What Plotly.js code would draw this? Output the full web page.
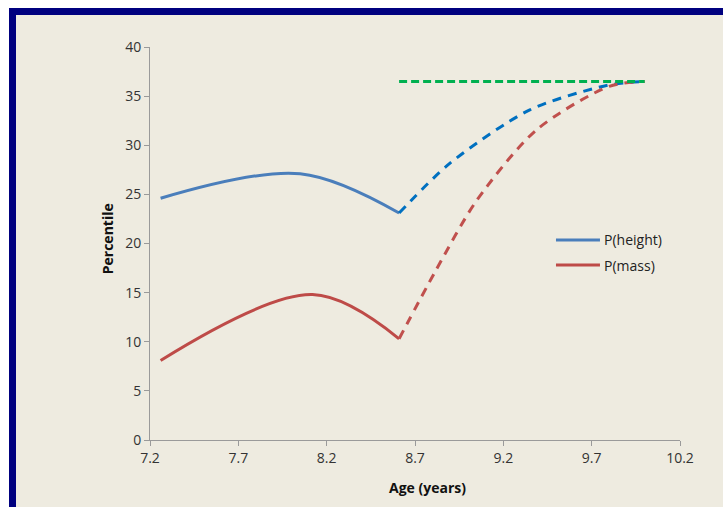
<!DOCTYPE html>
<html>
<head>
<meta charset="utf-8">
<script src="https://cdn.plot.ly/plotly-3.0.1.min.js"></script>
<style>
  html, body { margin: 0; padding: 0; background: #ffffff; width: 723px; height: 507px; overflow: hidden; }
  #frame { position: absolute; left: 9px; top: 8px; width: 800px; height: 600px;
           border-left: 7px solid #00007F; border-top: 7px solid #00007F; background: #EEEBE0; }
  #chart { position: absolute; left: 0; top: 0; width: 723px; height: 507px; }
</style>
</head>
<body>
<div id="frame"></div>
<div id="chart"></div>
<script>
// Data
const heightSolidX = [7.26, 8.05, 8.61];
const heightSolidY = [24.6, 27.1, 23.1];
const heightDashX  = [8.61, 8.90, 9.35, 9.79, 10.0];
const heightDashY  = [23.1, 28.2, 33.6, 36.1, 36.5];
const massSolidX   = [7.26, 8.12, 8.61];
const massSolidY   = [8.1, 14.8, 10.3];
const massDashX    = [8.61, 8.81, 9.05, 9.39, 9.80, 10.0];
const massDashY    = [10.3, 17.0, 24.4, 31.6, 36.0, 36.5];
const targetX      = [8.61, 10.0];
const targetY      = [36.5, 36.5];
const xTicks       = [7.2, 7.7, 8.2, 8.7, 9.2, 9.7, 10.2];
const xTickText    = ['7.2', '7.7', '8.2', '8.7', '9.2', '9.7', '10.2'];
const yTicks       = [0, 5, 10, 15, 20, 25, 30, 35, 40];
const legendNames  = ['P(height)', 'P(mass)'];
const legendColors = ['#4A7EBB', '#BE4B48'];

const traces = [
  { x: heightSolidX, y: heightSolidY, mode: 'lines', name: legendNames[0],
    line: { color: legendColors[0], width: 3, shape: 'spline', smoothing: 1 } },
  { x: massSolidX, y: massSolidY, mode: 'lines', name: legendNames[1],
    line: { color: legendColors[1], width: 3, shape: 'spline', smoothing: 1 } },
  { x: heightDashX, y: heightDashY, mode: 'lines',
    line: { color: '#0070C0', width: 3, dash: '9px,7px', shape: 'spline', smoothing: 0.8 } },
  { x: massDashX, y: massDashY, mode: 'lines',
    line: { color: '#C0504D', width: 3, dash: '9px,7px', shape: 'spline', smoothing: 0.8 } },
  { x: targetX, y: targetY, mode: 'lines',
    line: { color: '#00B050', width: 3, dash: '8px,4px' } }
];

const fam = 'Open Sans, Noto Sans, sans-serif';
const tickFont = { family: fam, size: 14, color: '#333333' };

// manual legend (Excel-style long sample lines)
const legX0 = 0.766, legX1 = 0.849, legTextX = 0.853;
const legY = [0.509, 0.445];
const shapes = [];
const annotations = [
  { text: '<b>Age (years)</b>', xref: 'paper', yref: 'paper', x: 0.5245, y: -0.122,
    xanchor: 'center', yanchor: 'middle', showarrow: false,
    font: { family: fam, size: 14, color: '#111' } },
  { text: '<b>Percentile</b>', xref: 'paper', yref: 'paper', x: -0.081, y: 0.511,
    xanchor: 'center', yanchor: 'middle', showarrow: false, textangle: -90,
    font: { family: fam, size: 14, color: '#111' } }
];
legendNames.forEach((nm, i) => {
  shapes.push({ type: 'line', xref: 'paper', yref: 'paper', x0: legX0, x1: legX1, y0: legY[i], y1: legY[i],
                line: { color: legendColors[i], width: 3 } });
  annotations.push({ text: nm, xref: 'paper', yref: 'paper', x: legTextX, y: legY[i],
                     xanchor: 'left', yanchor: 'middle', showarrow: false,
                     font: { family: fam, size: 14, color: '#222' } });
});

const layout = {
  width: 723, height: 507,
  margin: { l: 150, r: 43, t: 47, b: 67 },
  paper_bgcolor: 'rgba(0,0,0,0)',
  plot_bgcolor: 'rgba(0,0,0,0)',
  showlegend: false,
  xaxis: {
    range: [7.2, 10.2], tickvals: xTicks, ticktext: xTickText,
    showgrid: false, zeroline: false, showline: true, linecolor: '#9a9a9a', linewidth: 1,
    ticks: 'outside', ticklen: 5, tickcolor: '#9a9a9a', tickfont: tickFont
  },
  yaxis: {
    range: [0, 40], tickvals: yTicks,
    showgrid: false, zeroline: false, showline: true, linecolor: '#9a9a9a', linewidth: 1,
    ticks: 'outside', ticklen: 5, tickcolor: '#9a9a9a', tickfont: tickFont
  },
  shapes: shapes,
  annotations: annotations
};

Plotly.newPlot('chart', traces, layout, { staticPlot: true, displayModeBar: false });
</script>
</body>
</html>
